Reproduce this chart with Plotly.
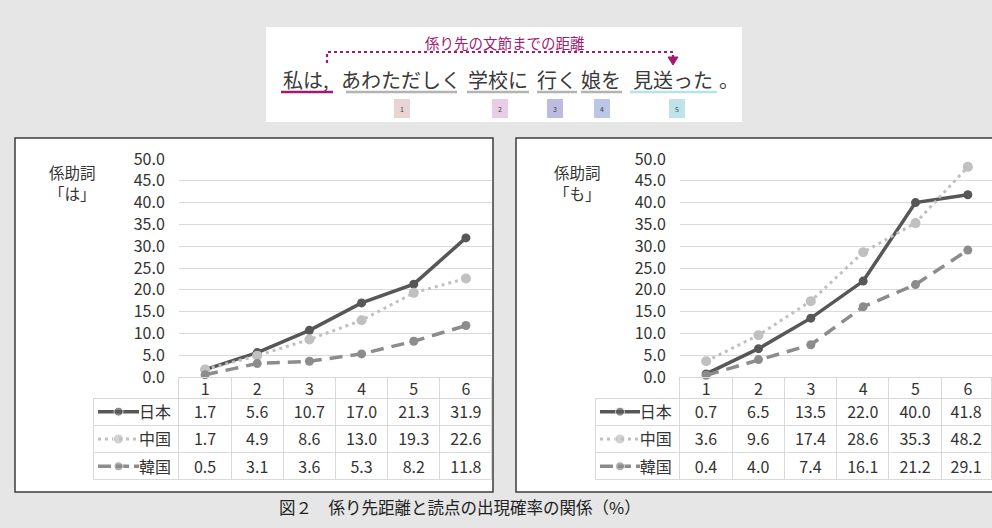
import plotly.graph_objects as go

W, H = 992, 528

# ---------------- data ----------------
distances = [1, 2, 3, 4, 5, 6]
countries = ["日本", "中国", "韓国"]
wa_japan = [1.7, 5.6, 10.7, 17.0, 21.3, 31.9]
wa_china = [1.7, 4.9, 8.6, 13.0, 19.3, 22.6]
wa_korea = [0.5, 3.1, 3.6, 5.3, 8.2, 11.8]
mo_japan = [0.7, 6.5, 13.5, 22.0, 40.0, 41.8]
mo_china = [3.6, 9.6, 17.4, 28.6, 35.3, 48.2]
mo_korea = [0.4, 4.0, 7.4, 16.1, 21.2, 29.1]
panel_title_top = ["係助詞", "係助詞"]
panel_title_bottom = ["「は」", "「も」"]
y_tick_values = [0, 5, 10, 15, 20, 25, 30, 35, 40, 45, 50]
sentence_words = ["私は,", "あわただしく", "学校に", "行く", "娘を", "見送った", "。"]
distance_labels = ["1", "2", "3", "4", "5"]
banner_label = "係り先の文節までの距離"
caption = "図２　係り先距離と読点の出現確率の関係（%）"

# ---------------- styles / layout ----------------
FONT = "Noto Sans CJK JP"
TXT = "#333333"
GRID = "#d9d9d9"
MAGENTA = "#a3196f"
series_style = {
    "日本": dict(color="#575757", width=3.5, dash="solid", key_dash="solid", msize=9),
    "中国": dict(color="#c0c0c0", width=3, dash="3px,4px", key_dash="3px,4px", msize=10),
    "韓国": dict(color="#8c8c8c", width=3.5, dash="13px,8px", key_dash="13px,5px", msize=9),
}


def px(x):
    return x / W


def py(y):
    return 1 - y / H


panels = [
    dict(data=[wa_japan, wa_china, wa_korea], box=(15, 493), plot=(179, 492),
         xr=[0.5, 6.5], table=(93, 492), colw=[86] + [52.2] * 6,
         key=(98, 139), title_x=72, ax="", ),
    dict(data=[mo_japan, mo_china, mo_korea], box=(516, 1010), plot=(680, 992),
         xr=[0.5, 6.5 - 2 / 52.4], table=(595, 992), colw=[85] + [52.4] * 5 + [50],
         key=(600, 640), title_x=577, ax="2", ),
]

fig = go.Figure()
shapes = []
annotations = []
layout_axes = {}

for i, p in enumerate(panels):
    xa = "x" + p["ax"]
    ya = "y" + p["ax"]
    # white panel box
    shapes.append(dict(type="rect", xref="paper", yref="paper",
                       x0=px(p["box"][0]), x1=px(p["box"][1]), y0=py(492), y1=py(138),
                       fillcolor="white", line=dict(color="#3c3c3c", width=1.5), layer="below"))
    # series lines
    for name, vals in zip(countries, p["data"]):
        s = series_style[name]
        fig.add_trace(go.Scatter(
            x=distances, y=vals, xaxis=xa, yaxis=ya, mode="lines+markers", name=name,
            showlegend=False, cliponaxis=False,
            line=dict(color=s["color"], width=s["width"], dash=s["dash"]),
            marker=dict(color=s["color"], size=s["msize"]),
        ))
    layout_axes["xaxis" + p["ax"]] = dict(
        domain=[px(p["plot"][0]), px(p["plot"][1])], range=p["xr"], showgrid=False,
        tickvals=distances, ticktext=[str(d) for d in distances], ticks="",
        ticklabelstandoff=1,
        tickfont=dict(family=FONT, size=16, color=TXT),
        zeroline=False, showline=False, anchor=ya, fixedrange=True, automargin=False)
    layout_axes["yaxis" + p["ax"]] = dict(
        domain=[py(377), py(159)], range=[0, 50], tickvals=y_tick_values, tickformat=".1f",
        gridcolor=GRID, gridwidth=1, zeroline=False, showline=False, anchor=xa,
        ticks="outside", ticklen=10, tickcolor="rgba(0,0,0,0)", automargin=False,
        tickfont=dict(family=FONT, size=16, color=TXT), fixedrange=True)

    # data table (header row holds the category labels drawn by the x axis)
    header_vals = [""] * (len(distances) + 1)
    cell_cols = [countries] + [[f"{series[j]:.1f}" for series in p["data"]]
                               for j in range(len(distances))]
    ncol = len(header_vals)
    fig.add_trace(go.Table(
        domain=dict(x=[px(p["table"][0]), px(p["table"][1])], y=[py(484), py(377)]),
        columnwidth=p["colw"],
        header=dict(values=header_vals, height=21, align="center",
                    fill=dict(color="rgba(0,0,0,0)"),
                    line=dict(color=["rgba(0,0,0,0)"] + [GRID] * (ncol - 1), width=1),
                    font=dict(family=FONT, size=16, color=TXT)),
        cells=dict(values=cell_cols, height=27.3,
                   align=["right"] + ["center"] * (ncol - 1),
                   fill=dict(color="rgba(0,0,0,0)"),
                   line=dict(color=GRID, width=1),
                   font=dict(family=FONT, size=16, color=TXT)),
    ))

    # legend keys in the first table column
    kx = "x" + str(3 + i)
    ky = "y" + str(3 + i)
    for r, name in enumerate(countries):
        s = series_style[name]
        fig.add_trace(go.Scatter(
            x=[0, 0.5, 1], y=[r + 0.5] * 3, xaxis=kx, yaxis=ky, mode="lines+markers",
            showlegend=False, hoverinfo="skip", cliponaxis=False,
            line=dict(color=s["color"], width=s["width"], dash=s["key_dash"]),
            marker=dict(color=s["color"], size=[0, s["msize"], 0]),
        ))
    layout_axes["xaxis" + str(3 + i)] = dict(
        domain=[px(p["key"][0]), px(p["key"][1])], range=[0, 1], visible=False,
        anchor=ky, fixedrange=True, automargin=False)
    layout_axes["yaxis" + str(3 + i)] = dict(
        domain=[py(480), py(398)], range=[3, 0], visible=False, anchor=kx, fixedrange=True,
        automargin=False)

    # panel title (two lines)
    for txt, yy in ((panel_title_top[i], 172), (panel_title_bottom[i], 193)):
        annotations.append(dict(text=txt, xref="paper", yref="paper",
                                x=px(p["title_x"]), y=py(yy), xanchor="center",
                                yanchor="middle", showarrow=False,
                                font=dict(family=FONT, size=15.5, color=TXT)))

# ---------------- top banner ----------------
shapes.append(dict(type="rect", xref="paper", yref="paper", x0=px(266), x1=px(742),
                   y0=py(122), y1=py(27), fillcolor="white", line=dict(width=0), layer="below"))
annotations.append(dict(text=banner_label, xref="paper", yref="paper", x=px(505), y=py(43),
                        xanchor="center", yanchor="middle", showarrow=False,
                        font=dict(family=FONT, size=14.5, color=MAGENTA)))
shapes.append(dict(type="path", xref="paper", yref="paper",
                   path=f"M{px(327)},{py(63)} L{px(327)},{py(52)} L{px(673)},{py(52)} L{px(673)},{py(57)}",
                   line=dict(color=MAGENTA, width=2.2, dash="dot")))
shapes.append(dict(type="path", xref="paper", yref="paper",
                   path=f"M{px(668)},{py(57)} L{px(678)},{py(57)} L{px(673)},{py(65)} Z",
                   fillcolor=MAGENTA, line=dict(color=MAGENTA, width=1)))

word_centers = [306, 401, 498, 557, 601, 673, 729]
word_spans = [(281, 333), (346, 457), (467, 529), (537, 577), (581, 622), (630, 717)]
underline_colors = [MAGENTA, "#b3b3b3", "#b3b3b3", "#b3b3b3", "#b3b3b3", "#b8e2ea"]
for w, cx in zip(sentence_words, word_centers):
    annotations.append(dict(text=w, xref="paper", yref="paper", x=px(cx), y=py(79),
                            xanchor="center", yanchor="middle", showarrow=False,
                            font=dict(family=FONT, size=20, color="#3a3a3a")))
for (x0, x1), c in zip(word_spans, underline_colors):
    shapes.append(dict(type="line", xref="paper", yref="paper", x0=px(x0), x1=px(x1),
                       y0=py(92), y1=py(92), line=dict(color=c, width=2.5)))

box_centers = [402, 500, 555, 602, 677]
box_colors = ["#e8d3d5", "#e8cde6", "#bdbbe0", "#bcc6e8", "#bfe3e8"]
for lab, cx, c in zip(distance_labels, box_centers, box_colors):
    shapes.append(dict(type="rect", xref="paper", yref="paper", x0=px(cx - 8), x1=px(cx + 8),
                       y0=py(118), y1=py(99), fillcolor=c, line=dict(width=0)))
    annotations.append(dict(text=lab, xref="paper", yref="paper", x=px(cx), y=py(108.5),
                            xanchor="center", yanchor="middle", showarrow=False,
                            font=dict(family=FONT, size=7, color="#444444")))

# caption
annotations.append(dict(text=caption, xref="paper", yref="paper", x=px(460), y=py(507),
                        xanchor="center", yanchor="middle", showarrow=False,
                        font=dict(family=FONT, size=16.5, color="#222222")))

fig.update_layout(
    width=W, height=H, margin=dict(l=0, r=0, t=0, b=0, autoexpand=False),
    paper_bgcolor="#e6e6e6", plot_bgcolor="rgba(0,0,0,0)",
    shapes=shapes, annotations=annotations, showlegend=False,
    font=dict(family=FONT, color=TXT),
    **layout_axes,
)

fig.write_html("out.html", config={"displayModeBar": False},
               post_script="document.body.style.margin='0px';")
